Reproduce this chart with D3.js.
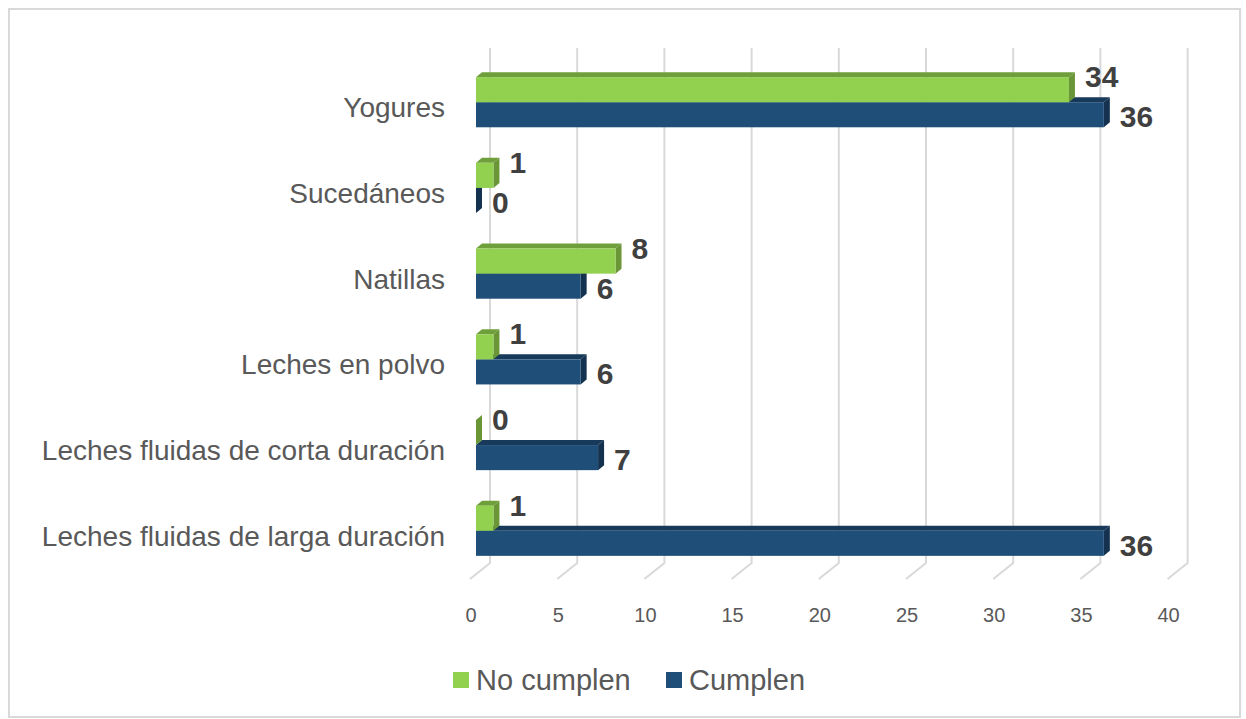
<!DOCTYPE html>
<html>
<head>
<meta charset="utf-8">
<script src="https://cdn.jsdelivr.net/npm/d3@7"></script>
<style>
  body { margin: 0; background: #fff; }
  svg { display: block; font-family: "Liberation Sans", Arial, sans-serif; }
</style>
</head>
<body>
<div id="chart"></div>
<script>
const categories = [
  "Yogures",
  "Sucedáneos",
  "Natillas",
  "Leches en polvo",
  "Leches fluidas de corta duración",
  "Leches fluidas de larga duración"
];
const noCumplen = [34, 1, 8, 1, 0, 1];
const cumplen = [36, 0, 6, 6, 7, 36];
const xTicks = [0, 5, 10, 15, 20, 25, 30, 35, 40];
const seriesNames = ["No cumplen", "Cumplen"];

const width = 1246, height = 719;
const green = "#92d050", greenTop = "#6f9f3a", greenSide = "#6a9637";
const blue = "#1f4e79", blueTop = "#17395a", blueSide = "#14324f";

// bar front plane and the back wall where gridlines live
const x = d3.scaleLinear().domain([0, 40]).range([476, 476 + 40 * 17.44]);
const backDx = 14, floorDx = -20, floorDy = 16;
const depthX = 6, depthY = -5;

const y = d3.scaleBand()
  .domain(categories)
  .range([60, 573])
  .paddingInner(0.415)
  .paddingOuter(0.2);

const svg = d3.select("#chart")
  .append("svg")
  .attr("width", width)
  .attr("height", height);

// chart frame
svg.append("rect")
  .attr("x", 9).attr("y", 9)
  .attr("width", 1231).attr("height", 708)
  .style("fill", "#fff")
  .style("stroke", "#d9d9d9")
  .style("stroke-width", 2);

// gridlines on back wall + floor diagonal
const gridTop = 48, gridBottom = 563;
xTicks.forEach(t => {
  const gx = x(t) + backDx;
  svg.append("path")
    .attr("d", `M${gx},${gridTop}V${gridBottom}L${gx + floorDx},${gridBottom + floorDy}`)
    .style("fill", "none")
    .style("stroke", "#d9d9d9")
    .style("stroke-width", 2);

  svg.append("text")
    .attr("x", x(t) - 5)
    .attr("y", 622)
    .attr("text-anchor", "middle")
    .style("font-size", "20px")
    .style("fill", "#595959")
    .text(t);
});

// a 3D-ish bar: front face, top face, right side
function bar3d(x1, y0, h, front, top, side) {
  const x0 = x(0);
  const g = svg.append("g");
  g.append("path")
    .attr("d", `M${x0},${y0}L${x0 + depthX},${y0 + depthY}L${x1 + depthX},${y0 + depthY}L${x1},${y0}Z`)
    .style("fill", top);
  g.append("path")
    .attr("d", `M${x1},${y0}L${x1 + depthX},${y0 + depthY}L${x1 + depthX},${y0 + h + depthY}L${x1},${y0 + h}Z`)
    .style("fill", side);
  if (x1 > x0) {
    g.append("rect")
      .attr("x", x0).attr("y", y0)
      .attr("width", x1 - x0).attr("height", h)
      .style("fill", front);
  }
}

const barH = y.bandwidth() / 2;

categories.forEach((c, i) => {
  const y0 = y(c);
  // Cumplen (lower) first so the green bar covers its top face
  bar3d(x(cumplen[i]), y0 + barH, barH, blue, blueTop, blueSide);
  bar3d(x(noCumplen[i]), y0, barH, green, greenTop, greenSide);
});

// category labels
svg.selectAll("text.cat")
  .data(categories)
  .enter().append("text")
  .attr("class", "cat")
  .attr("x", 445)
  .attr("y", d => y(d) + y.bandwidth() / 2 + 15)
  .attr("text-anchor", "end")
  .style("font-size", "28px")
  .style("fill", "#595959")
  .text(d => d);

// value labels
categories.forEach((c, i) => {
  svg.append("text")
    .attr("x", x(noCumplen[i]) + 16)
    .attr("y", y(c) + 10)
    .style("font-size", "30px")
    .style("font-weight", "bold")
    .style("fill", "#404040")
    .text(noCumplen[i]);
  svg.append("text")
    .attr("x", x(cumplen[i]) + 16)
    .attr("y", y(c) + barH * 2)
    .style("font-size", "30px")
    .style("font-weight", "bold")
    .style("fill", "#404040")
    .text(cumplen[i]);
});

// legend
const legend = [
  { name: seriesNames[0], color: green, x: 453 },
  { name: seriesNames[1], color: blue, x: 666 }
];
legend.forEach(l => {
  svg.append("rect")
    .attr("x", l.x).attr("y", 672)
    .attr("width", 16).attr("height", 16)
    .style("fill", l.color);
  svg.append("text")
    .attr("x", l.x + 23)
    .attr("y", 690)
    .style("font-size", "29px")
    .style("fill", "#595959")
    .text(l.name);
});
</script>
</body>
</html>
